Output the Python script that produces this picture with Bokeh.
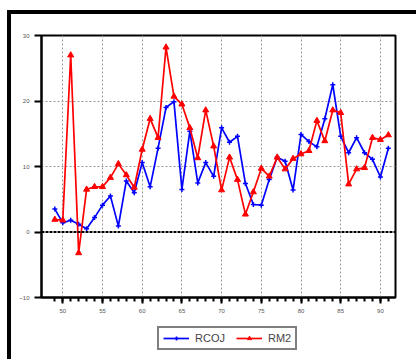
from bokeh.plotting import figure
from bokeh.layouts import column
from bokeh.models import ColumnDataSource, FixedTicker, Span, Legend, LegendItem
from bokeh.embed import file_html
from bokeh.resources import INLINE

years = list(range(1949, 1992))
rcoj = [3.5, 1.4, 1.8, 1.2, 0.5, 2.2, 4.1, 5.5, 0.9, 7.8, 6.0, 10.6, 6.9, 12.8, 19.0,
        19.9, 6.5, 15.4, 7.5, 10.6, 8.5, 15.9, 13.7, 14.6, 7.4, 4.2, 4.1, 8.0, 11.4, 10.8,
        6.4, 14.9, 13.8, 13.0, 17.3, 22.5, 14.6, 12.1, 14.4, 12.1, 11.1, 8.4, 12.8]
rm2 = [1.9, 1.8, 27.0, -3.2, 6.5, 6.9, 6.9, 8.3, 10.4, 8.7, 6.8, 12.6, 17.3, 14.4, 28.2,
       20.7, 19.5, 15.9, 11.3, 18.6, 13.1, 6.4, 11.4, 8.0, 2.7, 6.1, 9.7, 8.5, 11.4, 9.6,
       11.2, 11.9, 12.4, 17.0, 13.9, 18.6, 18.2, 7.3, 9.6, 9.8, 14.4, 14.1, 14.8]
x_ticks = [1950, 1955, 1960, 1965, 1970, 1975, 1980, 1985, 1990]
x_tick_labels = ["50", "55", "60", "65", "70", "75", "80", "85", "90"]
y_ticks = [-10, 0, 10, 20, 30]

src = ColumnDataSource(dict(year=years, rcoj=rcoj, rm2=rm2))

p = figure(width=405, height=309, output_backend="svg", toolbar_location=None,
           x_range=(1947.32, 1991.9), y_range=(-10, 30),
           min_border_left=30, min_border_right=21, min_border_top=21, min_border_bottom=26)
p.background_fill_color = "white"
p.border_fill_color = "white"
p.outline_line_color = "black"
p.outline_line_width = 2

# axes
for ax in (p.xaxis[0], p.yaxis[0]):
    ax.axis_line_color = "black"
    ax.axis_line_width = 2
    ax.major_tick_line_color = "black"
    ax.major_tick_line_width = 2
    ax.minor_tick_line_color = "black"
    ax.minor_tick_line_width = 2
    ax.major_tick_in = 0
    ax.minor_tick_in = 0
    ax.major_label_text_font = "Liberation Sans"
    ax.major_label_text_font_size = "6px"
    ax.major_label_text_color = "#555555"
    ax.major_label_standoff = 5

p.xaxis.ticker = FixedTicker(ticks=x_ticks, minor_ticks=years[:-1] + [1991])
p.xaxis.major_label_overrides = dict(zip(x_ticks, x_tick_labels))
p.xaxis.major_tick_out = 6
p.xaxis.minor_tick_out = 4
p.yaxis.ticker = FixedTicker(ticks=y_ticks, minor_ticks=[])
p.yaxis.major_tick_out = 7

p.xgrid.ticker = FixedTicker(ticks=x_ticks)
p.ygrid.ticker = FixedTicker(ticks=[10, 20])
for g in (p.xgrid[0], p.ygrid[0]):
    g.grid_line_color = "#9a9a9a"
    g.grid_line_dash = "2 2"
    g.grid_line_width = 1

p.add_layout(Span(location=0, dimension="width", line_color="black",
                  line_width=2, line_dash="3 1"))

line_kw_b = dict(line_color="#0000ff", line_width=1.7)
mark_kw_b = dict(marker="cross", size=5, line_color="#0000ff", line_width=1.5)
line_kw_r = dict(line_color="#ff0000", line_width=1.7)
mark_kw_r = dict(marker="triangle", size=6, fill_color="#ff0000", line_color="#ff0000")

p.line("year", "rcoj", source=src, **line_kw_b)
p.scatter("year", "rcoj", source=src, **mark_kw_b)
p.line("year", "rm2", source=src, **line_kw_r)
p.scatter("year", "rm2", source=src, **mark_kw_r)

# legend strip (second figure, same glyph styles; data lies outside its view)
q = figure(width=405, height=36, output_backend="svg", toolbar_location=None,
           x_range=(0, 1), y_range=(0, 1), x_axis_location=None, y_axis_location=None,
           min_border=0, min_border_left=0, min_border_right=0,
           min_border_top=0, min_border_bottom=0)
q.outline_line_color = None
q.grid.visible = False
q.background_fill_color = "white"
q.border_fill_color = "white"
bl = q.line("year", "rcoj", source=src, **line_kw_b)
bm = q.scatter("year", "rcoj", source=src, **mark_kw_b)
rl = q.line("year", "rm2", source=src, **line_kw_r)
rmk = q.scatter("year", "rm2", source=src, **mark_kw_r)

legend = Legend(items=[LegendItem(label="RCOJ", renderers=[bl, bm]),
                       LegendItem(label="RM2", renderers=[rl, rmk])],
                orientation="horizontal", location=(116, 9),
                glyph_width=26, glyph_height=10, label_height=10,
                label_standoff=6, spacing=11, padding=4, margin=0,
                label_text_font="Liberation Sans", label_text_font_size="11px",
                border_line_color="black", border_line_width=2,
                background_fill_color="white", background_fill_alpha=1)
q.add_layout(legend)

layout = column(p, q, spacing=0,
                styles={"border-top": "4px solid black", "border-left": "4px solid black",
                        "margin-top": "10px", "margin-left": "7px"})

open("out.html", "w").write(file_html(layout, INLINE))
